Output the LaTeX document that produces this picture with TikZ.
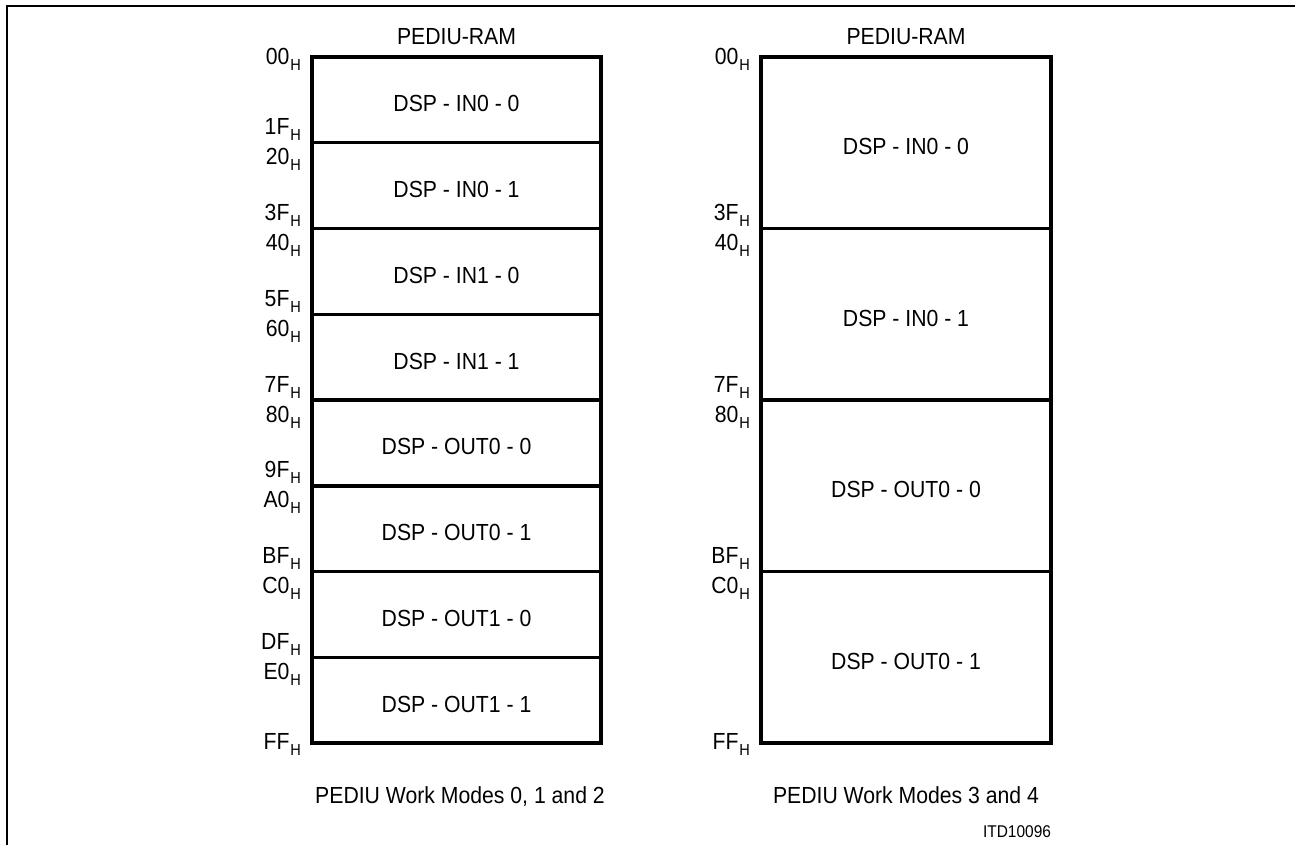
\documentclass[tikz,border=0pt]{standalone}
\usepackage{fontspec}
\setmainfont{Liberation Sans}[FakeStretch=0.91]
\newcommand{\hexlbl}[1]{#1\kern1pt\raisebox{-6pt}{\fontsize{16}{16}\selectfont H}}
\begin{document}
\begin{tikzpicture}[x=1pt,y=-1pt,
  every node/.style={inner sep=0pt,outer sep=0pt,font=\fontsize{23.3}{28}\selectfont},
  cellL/.style={draw,line width=3.5pt,minimum width=289pt,minimum height=85.75pt,text height=24pt,text depth=0pt},
  cellR/.style={draw,line width=3.5pt,minimum width=290pt,minimum height=171.5pt,text height=24pt,text depth=0pt},
  addr/.style={anchor=base east},
  ttl/.style={anchor=base}]
\useasboundingbox (0,0) rectangle (1295,845);
\draw[line width=2pt] (1300,6) -- (7,6) -- (7,850);

% left memory map
\node[ttl] (titleL) at (456.5,45) {PEDIU-RAM};
\foreach \t [count=\k from 0] in {DSP - IN0 - 0,DSP - IN0 - 1,DSP - IN1 - 0,DSP - IN1 - 1,DSP - OUT0 - 0,DSP - OUT0 - 1,DSP - OUT1 - 0,DSP - OUT1 - 1}{
  \node[cellL] (L\k) at (456.5,{57+85.75*\k+42.875}) {\t};
}
\foreach \s [count=\k from 0] in {00,20,40,60,80,A0,C0,E0}{
  \pgfmathsetmacro{\yy}{\k==0 ? 65 : 57+85.75*\k+22}
  \node[addr] (Ls\k) at (301,\yy) {\hexlbl{\s}};
}
\foreach \e [count=\k from 1] in {1F,3F,5F,7F,9F,BF,DF,FF}{
  \pgfmathsetmacro{\yy}{\k==8 ? 749 : 57+85.75*\k-8}
  \node[addr] (Le\k) at (301,\yy) {\hexlbl{\e}};
}
\node[ttl] (capL) at (460,803) {PEDIU Work Modes 0, 1 and 2};

% right memory map
\node[ttl] (titleR) at (906,45) {PEDIU-RAM};
\foreach \t [count=\k from 0] in {DSP - IN0 - 0,DSP - IN0 - 1,DSP - OUT0 - 0,DSP - OUT0 - 1}{
  \node[cellR] (R\k) at (906,{57+171.5*\k+85.75}) {\t};
}
\foreach \s [count=\k from 0] in {00,40,80,C0}{
  \pgfmathsetmacro{\yy}{\k==0 ? 65 : 57+171.5*\k+22}
  \node[addr] (Rs\k) at (750,\yy) {\hexlbl{\s}};
}
\foreach \e [count=\k from 1] in {3F,7F,BF,FF}{
  \pgfmathsetmacro{\yy}{\k==4 ? 749 : 57+171.5*\k-8}
  \node[addr] (Re\k) at (750,\yy) {\hexlbl{\e}};
}
\node[ttl] (capR) at (906,803) {PEDIU Work Modes 3 and 4};

\node[anchor=base east,font=\fontsize{17}{20}\selectfont] (code) at (1051,837) {ITD10096};
\end{tikzpicture}
\end{document}
